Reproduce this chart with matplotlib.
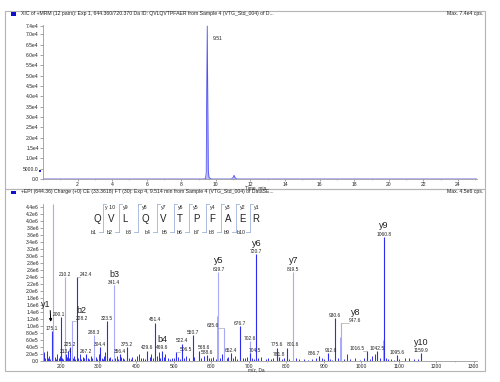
import matplotlib
matplotlib.use("Agg")
import matplotlib.pyplot as plt
from matplotlib.ticker import FixedLocator, MultipleLocator, FuncFormatter
from matplotlib.patches import Rectangle
from matplotlib.lines import Line2D

plt.rcParams['font.family'] = ['Liberation Sans', 'DejaVu Sans']

# ---------------- data ----------------
# XIC chromatogram (time in min, intensity in cps)
xic_time = [0.0, 9.30, 9.40, 9.44, 9.47, 9.50, 9.53, 9.56, 9.60, 9.66, 9.75,
            10.90, 11.00, 11.05, 11.10, 11.20, 25.1]
xic_int = [0, 0, 200, 3000, 45000, 74000, 37000, 4000, 800, 300, 0,
           0, 800, 1800, 700, 0, 0]
xic_peak_label = "9.51"
xic_peak_time = 9.51

# MS/MS labelled peaks
peak_mz = [175.1, 179.0, 200.1, 210.2, 213.4, 225.2, 228.2, 242.4, 267.2, 288.3,
           304.4, 323.5, 341.4, 356.4, 375.2, 429.6, 451.4, 469.6, 506.5, 522.4,
           550.7, 568.6, 588.6, 619.7, 635.6, 652.4, 676.7, 702.6, 704.5, 720.7,
           775.6, 781.8, 801.6, 819.5, 886.7, 912.6, 930.6, 947.6, 1016.5, 1042.5,
           1060.8, 1095.6, 1159.9]
peak_int = [0.85e6, 4.5e6, 1.25e6, 2.40e6, 0.20e6, 0.40e6, 1.13e6, 2.40e6, 0.20e6, 0.75e6,
            0.40e6, 1.13e6, 2.17e6, 0.20e6, 0.40e6, 0.30e6, 1.10e6, 0.30e6, 0.25e6, 0.50e6,
            0.75e6, 0.30e6, 0.17e6, 2.55e6, 0.95e6, 0.22e6, 1.00e6, 0.57e6, 0.22e6, 3.05e6,
            0.38e6, 0.12e6, 0.38e6, 2.55e6, 0.15e6, 0.22e6, 1.23e6, 1.08e6, 0.28e6, 0.28e6,
            3.55e6, 0.17e6, 0.22e6]
peak_text = ["175.1", None, "200.1", "210.2", "213.4", "225.2", "228.2", "242.4", "267.2", "288.3",
             "304.4", "323.5", "341.4", "356.4", "375.2", "429.6", "451.4", "469.6", "506.5", "522.4",
             "550.7", "568.6", "588.6", "619.7", "635.6", "652.4", "676.7", "702.6", "704.5", "720.7",
             "775.6", "781.8", "801.6", "819.5", "886.7", "912.6", "930.6", "947.6", "1016.5", "1042.5",
             "1060.8", "1095.6", "1159.9"]

# fragment ion assignments
ion_names = ["y1", "b2", "b3", "b4", "y5", "y6", "y7", "y8", "y9", "y10"]
ion_mz = [175.1, 228.2, 341.4, 469.6, 619.7, 720.7, 819.5, 947.6, 1060.8, 1159.9]

# small background peaks
noise_mz = [155, 158, 162, 165, 168, 171, 184, 187, 190, 194, 197, 203, 206, 215, 218, 220,
            232, 235, 238, 246, 250, 254, 258, 262, 271, 275, 279, 283, 292, 296, 300, 308,
            311, 315, 318, 327, 331, 335, 345, 349, 352, 360, 364, 368, 380, 386, 390, 396,
            402, 408, 412, 418, 424, 436, 440, 445, 456, 460, 464, 474, 478, 484, 490, 496,
            502, 512, 516, 528, 534, 540, 555, 574, 580, 594, 600, 606, 612, 617, 625, 630,
            642, 646, 658, 664, 670, 684, 690, 696, 710, 714, 726, 732, 746, 752, 760, 766,
            788, 794, 808, 826, 834, 848, 858, 870, 880, 895, 900, 918, 922, 938, 945, 955,
            962, 970, 985, 998, 1008, 1024, 1030, 1036, 1050, 1058, 1066, 1072, 1080, 1088,
            1102, 1118, 1128, 1140, 1152]
noise_int = [0.25, 0.10, 0.30, 0.08, 0.15, 0.05, 0.12, 0.06, 0.20, 0.08, 0.15, 0.10, 0.07, 0.12, 0.30, 0.08,
             0.10, 0.15, 0.06, 0.10, 0.20, 0.05, 0.12, 0.08, 0.10, 0.06, 0.15, 0.08, 0.12, 0.05, 0.20, 0.10,
             0.06, 0.15, 0.25, 0.10, 0.12, 0.07, 0.10, 0.15, 0.06, 0.12, 0.08, 0.05, 0.10, 0.07, 0.12, 0.05,
             0.15, 0.20, 0.08, 0.10, 0.06, 0.12, 0.20, 0.08, 0.15, 0.25, 0.10, 0.12, 0.20, 0.08, 0.06, 0.10,
             0.08, 0.12, 0.06, 0.10, 0.15, 0.08, 0.12, 0.10, 0.15, 0.08, 0.10, 0.12, 0.06, 1.30, 0.10, 0.20,
             0.08, 0.12, 0.10, 0.15, 0.06, 0.10, 0.08, 0.12, 0.10, 0.06, 0.08, 0.12, 0.06, 0.10, 0.05, 0.08,
             0.06, 0.10, 0.05, 0.08, 0.05, 0.06, 0.04, 0.05, 0.08, 0.10, 0.05, 0.06, 0.04, 0.08, 0.70, 0.06,
             0.20, 0.05, 0.08, 0.04, 0.10, 0.06, 0.15, 0.20, 0.08, 0.60, 0.10, 0.06, 0.05, 0.04,
             0.05, 0.08, 0.10, 0.05, 0.06]

sequence = list("QVLQVTPFAER")
y_labels = ["y 10", "y9", "y8", "y7", "y6", "y5", "y4", "y3", "y2", "y1"]
b_labels = ["b1", "b2", "b3", "b4", "b5", "b6", "b7", "b8", "b9", "b10"]

upper_header = ("XIC of +MRM (12 pairs): Exp 1, 644.360/720.370 Da ID: QVLQVTPFAER "
                "from Sample 4 (VTG_Std_004) of D...")
upper_max = "Max. 7.4e4 cps."
lower_header = ("+EPI (644.36) Charge (+0) CE (33.3618) FT (30): Exp 4, 9.514 min "
                "from Sample 4 (VTG_Std_004) of DataSE...")
lower_max = "Max. 4.5e6 cps."

# ---------------- styles / layout ----------------
W, H = 500, 382
DARK = "#2d2df0"
LIGHT = "#a9a9fa"
light_peaks = {179.0, 210.2, 228.2, 341.4, 619.7, 702.6, 947.6, 819.5, 288.3, 635.6, 560.7}
label_dx_px = {228.2: 10, 242.4: 9, 635.6: -12, 947.6: 14, 1016.5: -10, 506.5: 10,
               568.6: 5, 704.5: 5, 801.6: 6, 200.1: -2, 886.7: -5, 912.6: 3}
GRAY = "#b4b4b4"
TXT = "#222222"


def fx(px):
    return px / W


def fy(py):
    return 1 - py / H


fig = plt.figure(figsize=(W / 100, H / 100), dpi=100)

# frames
for (x0, y0, x1, y1) in [(5, 11, 485, 189), (5, 189, 485, 371)]:
    fig.add_artist(Rectangle((fx(x0), fy(y1)), fx(x1) - fx(x0), fy(y0) - fy(y1),
                             transform=fig.transFigure, fill=False, ec=GRAY, lw=0.8))
# header squares and text
for yy, head, mx in [(14, upper_header, upper_max), (192, lower_header, lower_max)]:
    fig.add_artist(Rectangle((fx(11), fy(yy + 1.5)), fx(5), 3 / H,
                             transform=fig.transFigure, color="#1010c8", lw=0))
    fig.text(fx(21), fy(yy), head, fontsize=3.7, color=TXT, va='center', ha='left')
    fig.text(fx(483), fy(yy), mx, fontsize=3.7, color=TXT, va='center', ha='right')

ax1 = fig.add_axes([fx(43), fy(179), fx(477) - fx(43), fy(25) - fy(179)])
ax2 = fig.add_axes([fx(43), fy(361), fx(477) - fx(43), fy(203.5) - fy(361)])

for ax in (ax1, ax2):
    for s in ("top", "right"):
        ax.spines[s].set_visible(False)
    for s in ("left", "bottom"):
        ax.spines[s].set_color("#9a9a9a")
        ax.spines[s].set_linewidth(0.6)
    ax.tick_params(axis='both', which='major', direction='out', length=2, width=0.5,
                   color="#808080", labelsize=3.6, labelcolor=TXT, pad=1)
    ax.tick_params(axis='x', which='major', length=1.5, pad=0.3)
    ax.tick_params(axis='both', which='minor', direction='out', length=1, width=0.4,
                   color="#a0a0a0")
    ax.patch.set_alpha(0)


def sci_fmt(v, pos=None):
    if v == 0:
        return "0.0"
    if v < 10000:
        return f"{v:.1f}"
    e = 0
    m = v
    while m >= 10:
        m /= 10
        e += 1
    return f"{m:.1f}e{e}"


# ---- upper chromatogram ----
ax1.fill_between(xic_time, xic_int, 0, color="#b9b9ff", lw=0)
ax1.plot(xic_time, xic_int, color="#5050f0", lw=0.6)
ax1.set_xlim(0, 25.1)
ax1.set_ylim(0, 74500)
ax1.xaxis.set_major_locator(FixedLocator(list(range(2, 25, 2))))
ax1.xaxis.set_minor_locator(MultipleLocator(1))
ax1.yaxis.set_major_locator(FixedLocator(list(range(0, 70001, 5000)) + [74000]))
ax1.yaxis.set_major_formatter(FuncFormatter(sci_fmt))
ax1.annotate(xic_peak_label, xy=(xic_peak_time, 68000), xytext=(4, 0),
             textcoords='offset points', fontsize=3.6, color=TXT, va='center')
fig.text(fx(256), fy(188.2), "Time, min", fontsize=3.4, color=TXT, ha='center', va='center')
fig.add_artist(Rectangle((fx(38.5), fy(172)), 2 / W, 2 / H, transform=fig.transFigure,
                         color="#2020d0", lw=0))

# ---- lower spectrum ----
ax2.vlines(noise_mz, 0, [v * 1e6 for v in noise_int],
           colors=[LIGHT if v > 0.5 else DARK for v in noise_int], lw=0.7)
ax2.vlines(peak_mz, 0, peak_int,
           colors=[LIGHT if m in light_peaks else DARK for m in peak_mz], lw=0.8)
ax2.set_xlim(152, 1309)
ax2.set_ylim(0, 4.5e6)
ax2.xaxis.set_major_locator(FixedLocator(list(range(200, 1301, 100))))
ax2.xaxis.set_minor_locator(MultipleLocator(50))
ax2.yaxis.set_major_locator(FixedLocator([i * 2e5 for i in range(0, 23)]))
ax2.yaxis.set_major_formatter(FuncFormatter(sci_fmt))
fig.text(fx(256), fy(369.8), "m/z, Da", fontsize=3.4, color=TXT, ha='center', va='center')

PT = 0.72  # points per pixel
mz_per_px = (1309 - 152) / (477 - 43)
for m, v, t in zip(peak_mz, peak_int, peak_text):
    if t is None:
        continue
    dx = label_dx_px.get(m, 0)
    ax2.annotate(t, xy=(m, v), xytext=(dx * PT, 1.2 * PT), textcoords='offset points',
                 fontsize=3.5, color=TXT, ha='center', va='baseline')
    if abs(dx) > 6:
        sgn = 1 if dx > 0 else -1
        end = m + (dx - sgn * 6) * mz_per_px
        ax2.plot([m, end], [v, v], color="#9a9a9a", lw=0.4)

for name, m in zip(ion_names, ion_mz):
    v = peak_int[peak_mz.index(m)]
    dx = label_dx_px.get(m, 0)
    if name == "y1":
        ax2.text(160, 1.62e6, name, fontsize=6.5, color=TXT, ha='center', va='center')
        ax2.annotate("", xy=(173, 1.04e6), xytext=(171, 1.52e6),
                     arrowprops=dict(arrowstyle="-|>", color="black", lw=0.7,
                                     mutation_scale=4))
        continue
    ax2.annotate(name, xy=(m, v), xytext=(dx * PT, 8.5 * PT), textcoords='offset points',
                 fontsize=6.5, color=TXT, ha='center', va='baseline')

# ---- sequence annotation ----
seq_x = [97, 111, 125, 145, 163, 180, 196, 212, 228, 243, 256]
for ch, xx in zip(sequence, seq_x):
    fig.text(fx(xx), fy(219), ch, fontsize=7, color=TXT, ha='center', va='center')
cut_x = [103, 119, 138, 157, 174, 189, 206, 221, 236, 250]
BR = "#9db3d9"
for i, cx in enumerate(cut_x):
    fig.add_artist(Line2D([fx(cx), fx(cx)], [fy(204), fy(232)], color=BR, lw=0.6,
                          transform=fig.transFigure))
    fig.add_artist(Line2D([fx(cx), fx(cx + 3)], [fy(204), fy(204)], color=BR, lw=0.6,
                          transform=fig.transFigure))
    fig.add_artist(Line2D([fx(cx - 4), fx(cx)], [fy(232), fy(232)], color=BR, lw=0.6,
                          transform=fig.transFigure))
    fig.text(fx(cx + 7), fy(208), y_labels[i], fontsize=3.8, color=TXT, ha='center', va='center')
    fig.text(fx(cx - 9), fy(233), b_labels[i], fontsize=3.8, color=TXT, ha='center', va='center')

fig.savefig("out.png", dpi=100)
